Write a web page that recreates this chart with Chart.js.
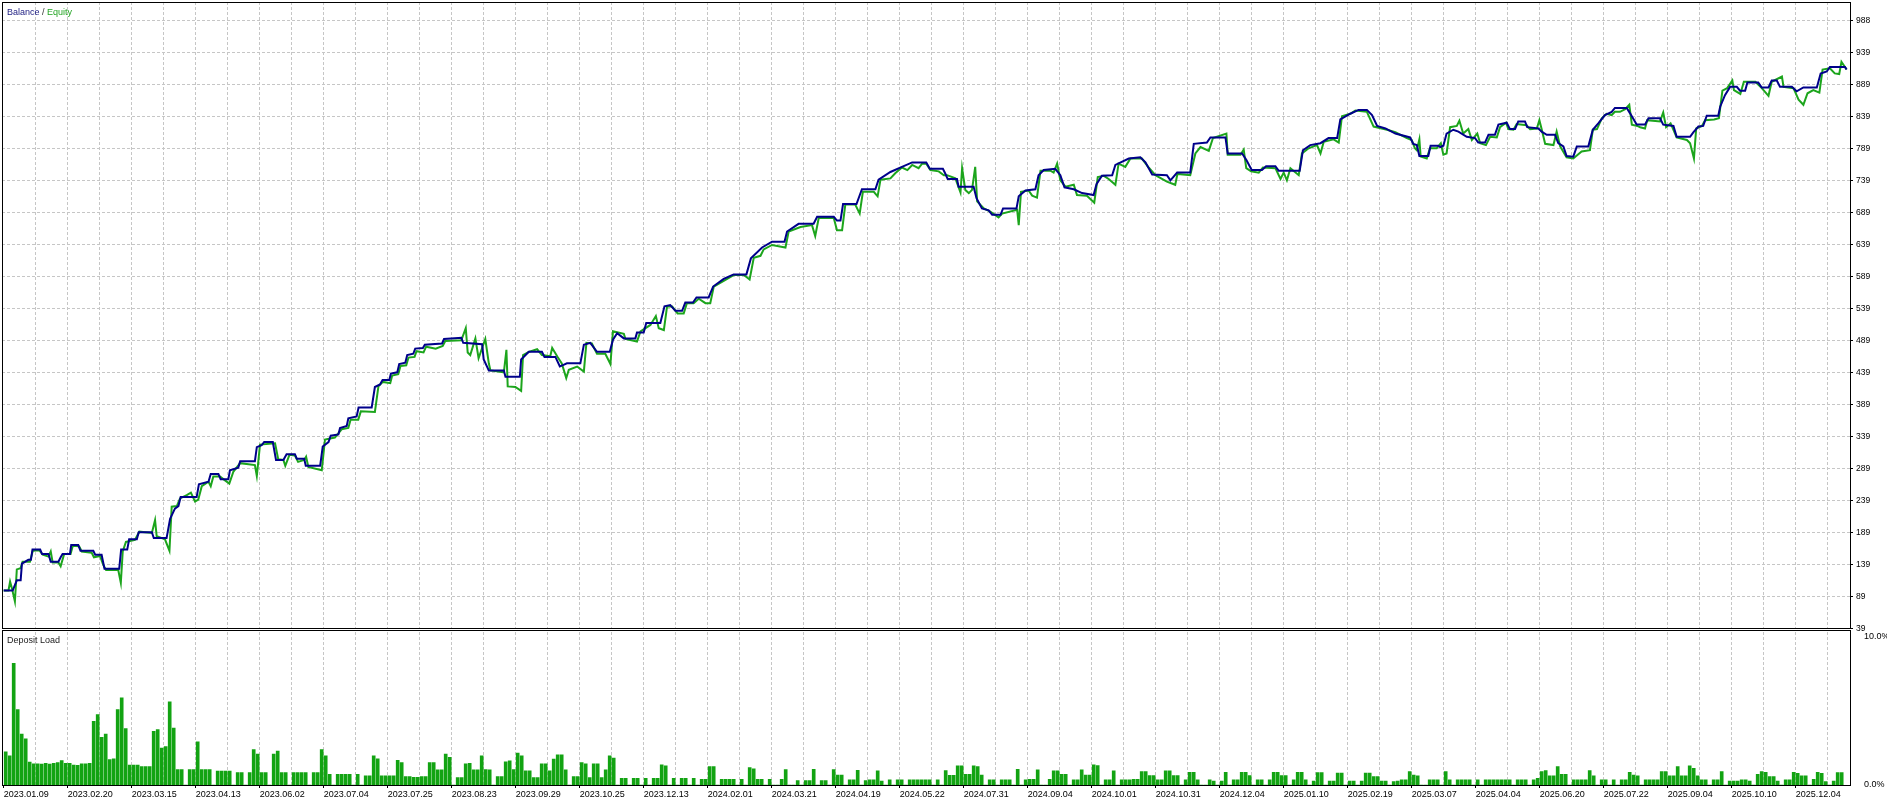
<!DOCTYPE html>
<html><head><meta charset="utf-8">
<script src="https://cdn.jsdelivr.net/npm/chart.js@4.4.1/dist/chart.umd.min.js"></script>
<style>
html,body{margin:0;padding:0;background:#fff;}
#wrap{position:relative;width:1887px;height:799px;overflow:hidden;}
#c{position:absolute;left:0;top:0;}
.t{position:absolute;font-family:"Liberation Sans",Arial,sans-serif;font-size:9px;line-height:10px;white-space:nowrap;}
</style></head><body>
<div id="wrap"><canvas id="c" width="1887" height="799"></canvas>
<div class="t" style="left:7px;top:7px"><span style="color:#1b1b80">Balance</span><span style="color:#333"> / </span><span style="color:#21a321">Equity</span></div>
<div class="t" style="left:7px;top:635px;color:#222">Deposit Load</div>
</div>
<script>
// x positions are in label-grid units (one unit = one vertical grid step)
const dateLabels = ['2023.01.09','2023.02.20','2023.03.15','2023.04.13','2023.06.02','2023.07.04','2023.07.25','2023.08.23','2023.09.29','2023.10.25','2023.12.13','2024.02.01','2024.03.21','2024.04.19','2024.05.22','2024.07.31','2024.09.04','2024.10.01','2024.10.31','2024.12.04','2025.01.10','2025.02.19','2025.03.07','2025.04.04','2025.06.20','2025.07.22','2025.09.04','2025.10.10','2025.12.04'];
const yTickValues = [39,89,139,189,239,289,339,389,439,489,539,589,639,689,739,789,839,889,939,988];
const loadTickLabels = ['0.0%','10.0%'];

const balance = [[0,98],[0.28,98],[0.41,114],[0.53,114],[0.57,140],[0.77,146],[0.85,146],[0.9,162],[1.14,162],[1.2,155],[1.4,155],[1.47,143],[1.71,143],[1.78,150],[1.84,155],[2.07,155],[2.11,169],[2.33,169],[2.4,160],[2.8,160],[2.86,154],[3.06,154],[3.15,132],[3.61,132],[3.67,162],[3.86,162],[3.92,178],[4.16,178],[4.22,189],[4.63,189],[4.69,180],[5.09,180],[5.2,210],[5.35,226],[5.46,230],[5.53,244],[6.03,244],[6.1,264],[6.4,268],[6.47,280],[6.71,280],[6.78,272],[7.02,272],[7.07,286],[7.33,290],[7.39,300],[7.85,300],[7.91,322],[8.06,325],[8.14,330],[8.41,330],[8.51,302],[8.74,302],[8.84,311],[9.1,311],[9.16,304],[9.39,304],[9.44,293],[9.89,293],[9.97,323],[10.15,330],[10.22,340],[10.46,342],[10.51,352],[10.72,355],[10.77,367],[11.03,370],[11.09,384],[11.5,384],[11.6,416],[11.76,420],[11.84,427],[12.05,427],[12.1,437],[12.3,439],[12.36,452],[12.55,454],[12.61,466],[12.8,468],[12.86,476],[13.1,477],[13.16,482],[13.7,484],[13.76,491],[14.3,493],[14.36,485],[14.95,483],[15.0,459],[15.16,442],[15.63,442],[15.68,432],[16.13,432],[16.17,459],[16.41,471],[16.82,471],[16.9,463],[17.24,463],[17.38,448],[17.6,453],[18.02,453],[18.13,482],[18.33,485],[18.54,471],[18.94,471],[19.04,490],[19.17,500],[19.38,492],[19.74,492],[19.79,501],[20.0,501],[20.08,516],[20.52,516],[20.65,542],[20.83,544],[20.99,535],[21.2,535],[21.3,548],[21.54,548],[21.65,556],[22.03,556],[22.17,573],[22.5,585],[22.81,592],[23.21,592],[23.35,617],[23.7,634],[24.01,643],[24.4,643],[24.48,659],[24.84,671],[25.31,671],[25.42,682],[25.94,682],[26.04,676],[26.15,676],[26.23,702],[26.65,702],[26.82,725],[27.24,725],[27.34,740],[27.71,752],[28.07,760],[28.39,767],[28.83,767],[28.94,757],[29.35,757],[29.42,750],[29.5,741],[29.79,741],[29.84,729],[30.31,729],[30.4,711],[30.57,695],[30.78,692],[30.89,685],[31.15,685],[31.23,695],[31.65,695],[31.72,714],[31.93,723],[32.24,725],[32.34,747],[32.5,755],[32.86,757],[33.02,747],[33.15,728],[33.44,725],[33.7,719],[34.06,716],[34.15,733],[34.32,746],[34.64,747],[34.74,763],[35.16,773],[35.52,775],[35.68,767],[35.89,748],[36.35,747],[36.46,739],[36.67,751],[37.08,751],[37.19,796],[37.6,798],[37.71,806],[38.18,806],[38.25,781],[38.7,781],[38.83,771],[39.0,755],[39.32,755],[39.45,761],[39.74,761],[39.84,754],[40.5,754],[40.6,786],[40.83,794],[41.15,797],[41.4,805],[41.67,805],[41.77,834],[42.08,843],[42.34,849],[42.6,849],[42.76,841],[42.92,824],[43.18,820],[43.49,812],[43.95,806],[44.05,796],[44.16,794],[44.24,777],[44.52,777],[44.59,793],[44.83,793],[44.89,791],[44.99,793],[45.09,812],[45.3,818],[45.46,815],[45.72,807],[45.98,805],[46.08,798],[46.29,798],[46.4,810],[46.6,810],[46.71,826],[46.97,829],[47.07,819],[47.23,819],[47.33,831],[47.54,831],[47.61,822],[47.96,820],[48.06,815],[48.22,810],[48.48,810],[48.58,797],[48.74,792],[48.84,777],[49.05,776],[49.16,792],[49.52,792],[49.66,818],[49.83,828],[50.04,841],[50.25,846],[50.35,852],[50.72,852],[50.82,844],[51.03,826],[51.29,826],[51.4,836],[51.76,836],[51.86,826],[52.18,824],[52.28,807],[52.7,807],[52.8,814],[52.96,823],[53.11,824],[53.22,840],[53.58,840],[53.64,854],[53.79,872],[53.95,885],[54.16,885],[54.26,879],[54.42,879],[54.49,892],[54.83,892],[54.94,884],[55.15,884],[55.25,895],[55.41,895],[55.51,885],[55.88,885],[56.03,878],[56.24,884],[56.66,884],[56.78,906],[56.97,909],[57.07,916],[57.54,916],[57.59,912]];

const equity = [[0,98],[0.15,98],[0.2,112],[0.26,101],[0.35,81],[0.41,131],[0.53,133],[0.59,143],[0.82,143],[0.91,160],[1.11,161],[1.22,154],[1.4,151],[1.47,159],[1.53,142],[1.71,142],[1.78,136],[1.89,155],[2.09,155],[2.16,168],[2.36,167],[2.44,159],[2.75,157],[2.82,150],[3.01,152],[3.11,138],[3.2,130],[3.58,130],[3.66,110],[3.72,159],[3.82,174],[4.1,177],[4.24,190],[4.63,188],[4.73,208],[4.78,183],[5.04,178],[5.18,160],[5.25,229],[5.41,230],[5.51,242],[5.72,247],[5.85,251],[5.98,237],[6.08,240],[6.19,261],[6.4,268],[6.47,261],[6.55,276],[6.76,276],[7.05,265],[7.18,284],[7.39,297],[7.85,294],[7.91,277],[8.01,326],[8.48,328],[8.58,303],[8.74,302],[8.8,293],[8.93,310],[9.1,309],[9.2,299],[9.39,302],[9.45,307],[9.52,291],[9.94,286],[10.04,334],[10.35,337],[10.56,350],[10.77,352],[10.84,365],[11.08,365],[11.16,378],[11.6,377],[11.71,417],[11.85,424],[12.08,422],[12.14,434],[12.33,436],[12.4,449],[12.58,450],[12.65,462],[12.84,463],[12.9,472],[13.12,470],[13.2,479],[13.5,476],[13.72,480],[13.8,488],[14.3,489],[14.44,508],[14.5,470],[14.58,466],[14.74,492],[14.84,461],[15.05,491],[15.16,453],[15.21,442],[15.63,439],[15.71,474],[15.75,417],[15.99,416],[16.17,410],[16.23,466],[16.41,471],[16.67,475],[16.82,466],[17.08,464],[17.14,477],[17.31,463],[17.44,453],[17.58,430],[17.66,443],[17.92,448],[18.13,440],[18.21,485],[18.38,484],[18.54,468],[18.8,468],[18.96,452],[19.04,503],[19.38,499],[19.43,491],[19.79,487],[19.9,503],[20.21,513],[20.38,527],[20.47,508],[20.63,505],[20.73,542],[20.89,542],[21.06,531],[21.25,531],[21.35,547],[21.56,547],[21.72,554],[21.93,547],[22.08,547],[22.19,573],[22.5,582],[22.81,591],[23.13,591],[23.31,584],[23.44,618],[23.65,621],[23.75,631],[24.01,638],[24.43,634],[24.53,659],[24.9,666],[25.26,669],[25.36,652],[25.47,680],[25.94,680],[26.04,661],[26.2,661],[26.3,701],[26.61,701],[26.75,687],[26.85,721],[27.19,721],[27.31,714],[27.4,740],[27.71,742],[27.86,750],[28.07,759],[28.24,755],[28.39,763],[28.59,758],[28.7,765],[28.83,765],[28.96,755],[29.22,753],[29.38,747],[29.48,747],[29.74,742],[29.9,720],[29.95,758],[30.05,724],[30.16,719],[30.26,724],[30.36,760],[30.42,706],[30.63,695],[30.83,690],[31.09,681],[31.2,687],[31.67,693],[31.72,669],[31.79,721],[32.03,723],[32.14,715],[32.29,712],[32.4,754],[32.71,754],[32.81,751],[32.92,765],[33.02,739],[33.18,729],[33.44,732],[33.54,716],[33.85,715],[34.08,704],[34.19,744],[34.38,746],[34.53,741],[34.74,732],[34.84,765],[35.05,760],[35.21,773],[35.57,773],[35.78,759],[35.99,747],[36.35,737],[36.61,732],[36.68,749],[37.08,747],[37.24,781],[37.4,791],[37.66,785],[37.79,805],[38.21,812],[38.25,779],[38.65,779],[38.75,787],[38.83,758],[38.98,753],[39.22,751],[39.35,759],[39.74,758],[39.9,741],[40.0,751],[40.1,739],[40.21,758],[40.47,747],[40.57,781],[40.78,789],[41.04,794],[41.15,781],[41.25,799],[41.56,803],[41.72,798],[41.82,839],[42.08,843],[42.24,848],[42.6,846],[42.81,823],[43.23,818],[43.49,814],[43.85,805],[44.0,802],[44.1,789],[44.16,786],[44.24,803],[44.28,776],[44.47,773],[44.57,789],[44.78,789],[44.91,797],[44.99,779],[45.09,781],[45.2,822],[45.41,824],[45.49,832],[45.61,812],[45.77,819],[45.88,802],[46.05,812],[46.14,797],[46.32,794],[46.45,807],[46.66,806],[46.76,822],[46.95,829],[47.02,819],[47.18,818],[47.28,827],[47.59,825],[47.7,819],[47.91,820],[47.99,833],[48.06,819],[48.17,796],[48.43,794],[48.53,815],[48.64,792],[48.84,775],[49.05,773],[49.31,784],[49.57,786],[49.66,818],[49.79,819],[49.94,836],[50.09,843],[50.25,841],[50.35,846],[50.51,846],[50.67,850],[50.8,857],[50.88,826],[51.05,824],[51.14,822],[51.29,820],[51.36,833],[51.76,831],[51.86,845],[51.95,822],[52.09,828],[52.18,818],[52.28,806],[52.6,802],[52.7,797],[52.82,773],[52.89,820],[53.07,824],[53.17,833],[53.45,834],[53.6,836],[53.71,879],[53.86,883],[54.02,895],[54.07,880],[54.27,874],[54.38,893],[54.74,893],[54.94,883],[55.15,871],[55.25,893],[55.57,901],[55.62,885],[55.93,883],[56.09,865],[56.24,857],[56.37,875],[56.55,880],[56.74,876],[56.84,912],[57.07,914],[57.22,906],[57.36,905],[57.43,924],[57.54,916],[57.59,912]];

// deposit load in %, one value per 1/8 grid unit
const depositLoad = [
2.16,1.9,7.9,4.9,3.3,3.0,1.48,1.37,1.37,1.35,
1.4,1.36,1.4,1.45,1.59,1.4,1.4,1.3,1.28,1.37,
1.37,1.4,4.14,4.57,3.1,3.3,1.65,1.7,4.9,5.66,
3.66,1.3,1.3,1.3,1.2,1.2,1.2,3.48,3.6,2.4,
2.5,5.4,3.7,1.0,1.0,0,1.0,1.0,2.8,1.0,
1.0,1.0,0,0.9,0.9,0.9,0.9,0,0.8,0.8,
0,0.8,2.3,2.0,0.8,0.8,0,2.0,2.2,0.8,
0.8,0,0.8,0.8,0.8,0.8,0,0.8,0.8,2.3,
1.9,0.7,0,0.7,0.7,0.7,0.7,0,0.7,0,
0.6,0.6,1.9,1.7,0.6,0.6,0.6,0.6,1.6,1.46,
0.54,0.54,0.5,0.5,0.54,0.54,1.46,1.46,0.98,0.98,
2.0,1.79,0,0.48,0.48,1.37,1.4,0.98,0.98,1.9,
1.0,0.98,0,0.54,0.54,1.5,1.57,1.0,2.07,1.9,
0.92,0.92,0.48,0.48,1.37,1.37,0.92,1.68,1.96,1.96,
0.98,0,0.54,0.54,1.46,1.37,0.48,1.37,1.37,0.48,
0.98,1.9,1.75,0,0.44,0.44,0,0.44,0.44,0,
0.44,0,0.44,0.44,1.31,1.25,0,0.44,0,0.44,
0.44,0,0.44,0,0.37,0.37,1.2,1.2,0,0.37,
0.37,0.37,0.37,0,0.37,0,1.13,1.05,0.37,0.37,
0,0.37,0,0,0.37,1.0,0,0,0.28,0,
0.28,0.28,1.02,0,0.28,0.28,0,1.0,0.65,0.65,
0,0.33,0.33,0.95,0,0.28,0.33,0.33,0.92,0.26,
0,0.33,0,0.33,0.33,0,0.33,0.33,0.33,0.33,
0.33,0.33,0,0.33,0,0.94,0.63,0.63,1.24,1.24,
0.7,0.7,1.24,1.2,0.65,0,0.33,0.33,0,0.33,
0.33,0.33,0,1.02,0,0.33,0.37,0.37,0.98,0,
0,0.37,0.92,0.92,0.7,0.7,0,0.33,0.33,0.98,
0.65,0.65,1.31,1.26,0,0.33,0.33,0.92,0,0.33,
0.33,0.33,0.37,0.37,0.87,0.87,0.61,0.61,0.33,0.33,
0.92,0.92,0.61,0.61,0,0.33,0.83,0.83,0.33,0,
0,0.33,0.26,0,0.26,0.83,0,0.33,0.33,0.83,
0.83,0.61,0,0.33,0.33,0,0.33,0.83,0.83,0.61,
0.61,0,0.33,0.83,0.83,0.33,0,0.26,0.81,0.81,
0,0.26,0.26,0.78,0.78,0,0.26,0.26,0,0.26,
0.78,0.78,0.54,0.54,0.26,0.26,0,0.22,0.26,0.33,
0.33,0.87,0.65,0.59,0,0,0.33,0.33,0.33,0,
0.87,0.33,0,0.33,0.33,0.33,0.33,0,0.33,0,
0.33,0.33,0.33,0.33,0.33,0.33,0.33,0,0.33,0.33,
0.33,0,0.33,0.44,0.87,0.94,0.59,0.59,1.2,0.7,
0.7,0,0.33,0.33,0.33,0.33,0.94,0.59,0,0.33,
0.33,0,0.33,0,0.33,0.33,0.83,0.65,0.59,0,
0.33,0.33,0.33,0.33,0.87,0.87,0.59,0.59,1.2,0.59,
0.59,1.24,1.09,0.59,0.33,0.33,0,0.33,0.33,0.87,
0,0.26,0.26,0.26,0.33,0.33,0.26,0,0.7,0.87,
0.83,0.54,0.54,0.26,0,0.33,0.33,0.83,0.76,0.59,
0.59,0,0.37,0.83,0.76,0.22,0,0.26,0.8,0.8
];

const FONT = 'Liberation Sans';
const gridUnits = Array.from({length: 58}, (_, i) => i);

const framePlugin = {
  id: 'frames',
  afterDraw(chart) {
    const {ctx, chartArea, scales} = chart;
    const y = scales.y, y2 = scales.y2;
    const L = Math.round(chartArea.left) + 0.5, R = Math.round(chartArea.right) + 0.5;
    const split = Math.round(y.bottom);
    const top = Math.round(y.top) + 0.5;
    const mb = split - 2 + 0.5, dt = split + 0.5, db = Math.round(y2.bottom) + 0.5;
    ctx.save();
    ctx.fillStyle = '#fff';
    ctx.fillRect(L - 0.5, mb + 0.5, R - L + 1, dt - mb - 1);
    ctx.strokeStyle = '#000';
    ctx.lineWidth = 1;
    ctx.strokeRect(L, top, R - L, mb - top);
    ctx.strokeRect(L, dt, R - L, db - dt);
    ctx.restore();
  }
};

const noPad = s => { s.paddingTop = 0; s.paddingBottom = 0; s.paddingLeft = 0; s.paddingRight = 0; };

new Chart(document.getElementById('c'), {
  type: 'line',
  data: {
    datasets: [
      { type: 'line', label: 'Balance', data: balance.map(([x, y]) => ({x, y})), yAxisID: 'y',
        borderColor: '#00008b', borderWidth: 2, pointRadius: 0, tension: 0, fill: false, order: 0 },
      { type: 'line', label: 'Equity', data: equity.map(([x, y]) => ({x, y})), yAxisID: 'y',
        borderColor: '#1ca51c', borderWidth: 2, pointRadius: 0, tension: 0, fill: false, order: 1 },
      { type: 'bar', label: 'Deposit Load', data: depositLoad.map((v, k) => ({x: (k + 0.5) / 8, y: v})), yAxisID: 'y2',
        backgroundColor: '#12a312', borderWidth: 0, barThickness: 3, order: 2 }
    ]
  },
  options: {
    responsive: false, animation: false, devicePixelRatio: 1, events: [],
    layout: { padding: { left: 2, top: 2, right: 0, bottom: 0 } },
    plugins: { legend: { display: false }, tooltip: { enabled: false }, title: { display: false } },
    scales: {
      x: {
        type: 'linear', position: 'bottom', min: -0.053, max: 57.697, offset: false,
        afterBuildTicks: s => { s.ticks = gridUnits.map(v => ({value: v})); },
        afterFit: s => { s.height = 14; noPad(s); },
        ticks: { autoSkip: false, maxRotation: 0, minRotation: 0, align: 'start', padding: 1, color: '#000',
          font: { family: FONT, size: 9 },
          callback: v => (v % 2 === 0 ? dateLabels[v / 2] : '') },
        grid: { offset: false, color: c => (c.tick && c.tick.value === 0 ? 'rgba(0,0,0,0)' : '#c6c6c6'), lineWidth: 1,
          tickLength: 3, tickColor: c => (c.tick && c.tick.value % 2 === 0 ? '#000' : 'rgba(0,0,0,0)') },
        border: { display: true, color: '#000', dash: [3, 2] }
      },
      y: {
        type: 'linear', position: 'right', stack: 'panes', stackWeight: 627.7, min: 36.81, max: 1017.6,
        afterBuildTicks: s => { s.ticks = yTickValues.map(v => ({value: v})); },
        afterFit: s => { s.width = 37; noPad(s); },
        ticks: { padding: 3, color: '#000', font: { family: FONT, size: 8.5 }, callback: v => String(v) },
        grid: { color: '#c6c6c6', lineWidth: 1, tickLength: 3, tickColor: '#000' },
        border: { display: true, color: '#000', dash: [3, 2] }
      },
      y2: {
        type: 'linear', position: 'right', stack: 'panes', stackWeight: 155.3, min: 0, max: 10.08,
        afterBuildTicks: s => { s.ticks = [{value: 0}, {value: 10}]; },
        afterFit: s => { s.width = 37; noPad(s); },
        ticks: { padding: 6, color: '#000', font: { family: FONT, size: 9 },
          callback: v => (v === 10 ? ['', loadTickLabels[1]] : loadTickLabels[0]) },
        grid: { display: false },
        border: { display: true, color: '#000' }
      }
    }
  },
  plugins: [framePlugin]
});
</script>
</body></html>
